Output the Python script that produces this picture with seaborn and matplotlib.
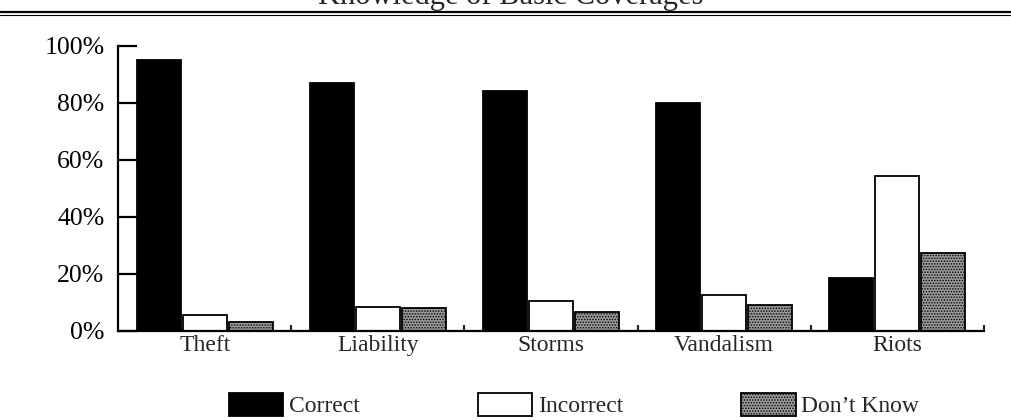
import pandas as pd
import numpy as np
import matplotlib
matplotlib.use("Agg")
import matplotlib.pyplot as plt
from matplotlib.lines import Line2D
from matplotlib.ticker import FixedLocator, FuncFormatter
import seaborn as sns

OUT_PATH = "out.png"

coverages = ["Theft", "Liability", "Storms", "Vandalism", "Riots"]
answers = ["Correct", "Incorrect", "Don\u2019t Know"]
correct = [95, 87, 84, 80, 18.5]
incorrect = [5.5, 8.5, 10.5, 12.5, 54.5]
dont_know = [3, 8, 6.5, 9, 27.5]
y_ticks = [0, 20, 40, 60, 80, 100]
title = "Knowledge of Basic Coverages"


def main():
    sns.set_style("white")
    plt.rcParams["font.family"] = ["Liberation Serif", "DejaVu Serif"]
    plt.rcParams["hatch.linewidth"] = 0.7

    df = pd.DataFrame({
        "coverage": coverages * 3,
        "answer": [answers[0]] * 5 + [answers[1]] * 5 + [answers[2]] * 5,
        "pct": correct + incorrect + dont_know,
    })

    fig = plt.figure(figsize=(10.11, 4.2), dpi=100)
    ax = fig.add_axes([0.117, 0.212, 0.856, 0.679])

    sns.barplot(
        data=df, x="coverage", y="pct", hue="answer",
        order=coverages, hue_order=answers,
        palette=["black", "white", "#999999"],
        width=0.8, gap=0.05, edgecolor="black", linewidth=1.3,
        legend=False, ax=ax,
    )
    for bar in ax.containers[2]:
        bar.set_hatch("......")

    ax.set_xlim(-0.5, 4.5)
    ax.set_ylim(0, 100)
    ax.set_xlabel("")
    ax.set_ylabel("")
    sns.despine(ax=ax)
    for side in ["left", "bottom"]:
        ax.spines[side].set_linewidth(1.6)
        ax.spines[side].set_color("black")

    ax.yaxis.set_major_locator(FixedLocator(y_ticks))
    ax.yaxis.set_major_formatter(FuncFormatter(lambda v, p: f"{int(v)}%"))
    ax.tick_params(axis="y", direction="in", length=13.5, width=1.6,
                   pad=10, labelsize=18.5, left=True, colors="black")
    ax.tick_params(axis="x", which="major", length=0, pad=3, labelsize=17)
    ax.xaxis.set_minor_locator(FixedLocator(np.arange(0.5, 5, 1)))
    ax.tick_params(axis="x", which="minor", direction="in", length=4,
                   width=1.6, bottom=True)

    ax.legend(ax.containers, answers, loc="center", ncol=3,
              bbox_to_anchor=(574 / 1011, 0.036),
              bbox_transform=fig.transFigure, frameon=False,
              fontsize=17, handlelength=2.3, handleheight=1.15,
              handletextpad=0.25, columnspacing=5.0, borderpad=0)

    # cropped title and double rule at the top of the page
    fig.text(0.505, 1 - 4 / 420, title, ha="center", va="baseline",
             fontsize=22)
    fig.add_artist(Line2D([0, 1], [1 - 12 / 420] * 2, color="black",
                          lw=1.6, transform=fig.transFigure))
    fig.add_artist(Line2D([0, 1], [1 - 15.3 / 420] * 2, color="black",
                          lw=0.8, transform=fig.transFigure))

    fig.savefig(OUT_PATH, dpi=100)
    plt.close(fig)


if __name__ == "__main__":
    main()
